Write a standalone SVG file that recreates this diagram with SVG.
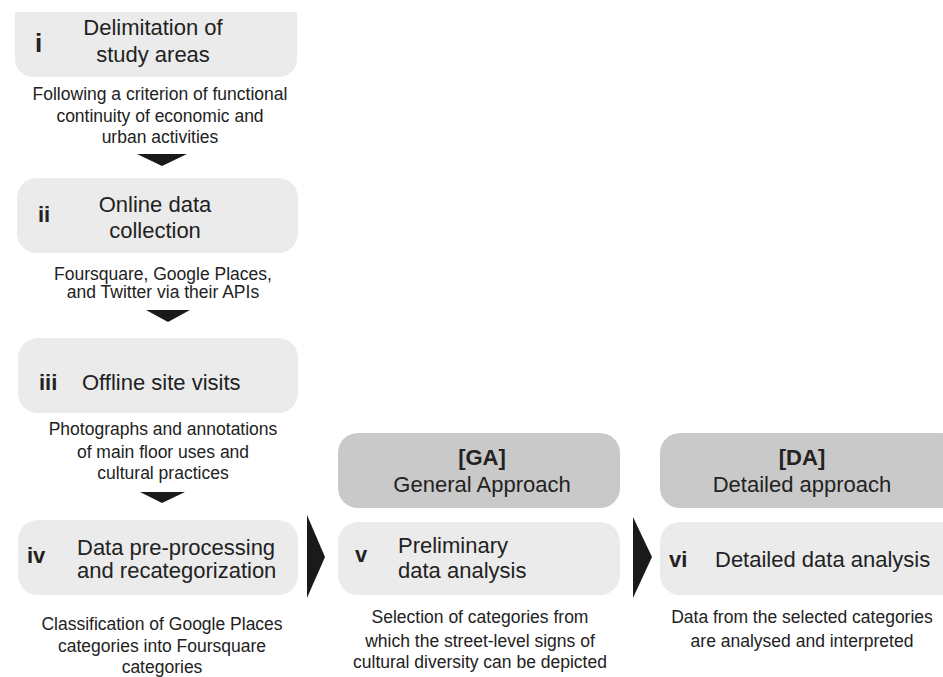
<svg xmlns="http://www.w3.org/2000/svg" width="943" height="677" viewBox="0 0 943 677">
<style>
text{font-family:"Liberation Sans",Arial,sans-serif;fill:#222}
.t{font-size:22px}
.n{font-size:22px;font-weight:bold}
.s{font-size:17.5px;text-anchor:middle}
.c{text-anchor:middle}
.lb{fill:#ebebeb}
.db{fill:#c9c9c9}
.ar{fill:#1a1a1a}
</style>
<rect width="943" height="677" fill="#fff"/>
<g id="node-i">
<path class="lb" d="M15,12 H297 V59 A18,18 0 0 1 279,77 H33 A18,18 0 0 1 15,59 Z"/>
<text class="n" x="35" y="52" style="font-size:26px">i</text>
<text class="t c" x="153" y="35">Delimitation of</text>
<text class="t c" x="153" y="62">study areas</text>
<text class="s" x="160" y="100">Following a criterion of functional</text>
<text class="s" x="160" y="122">continuity of economic and</text>
<text class="s" x="160" y="143">urban activities</text>
</g>
<g id="node-ii">
<rect class="lb" x="17" y="178" width="281" height="75" rx="20"/>
<text class="n" x="38" y="222">ii</text>
<text class="t c" x="155" y="212">Online data</text>
<text class="t c" x="155" y="238">collection</text>
<text class="s" x="163" y="280">Foursquare, Google Places,</text>
<text class="s" x="163" y="298">and Twitter via their APIs</text>
</g>
<g id="node-iii">
<rect class="lb" x="18" y="338" width="280" height="75" rx="20"/>
<text class="n" x="39" y="390">iii</text>
<text class="t" x="82" y="390">Offline site visits</text>
<text class="s" x="163" y="435">Photographs and annotations</text>
<text class="s" x="163" y="458">of main floor uses and</text>
<text class="s" x="163" y="479">cultural practices</text>
</g>
<g id="node-iv">
<rect class="lb" x="18" y="520" width="280" height="75" rx="20"/>
<text class="n" x="27" y="563">iv</text>
<text class="t" x="77" y="555">Data pre-processing</text>
<text class="t" x="77" y="578">and recategorization</text>
<text class="s" x="162" y="630">Classification of Google Places</text>
<text class="s" x="162" y="652">categories into Foursquare</text>
<text class="s" x="162" y="673">categories</text>
</g>
<g id="node-GA">
<rect class="db" x="338" y="433" width="282" height="75" rx="20"/>
<text class="n c" x="482" y="465">[GA]</text>
<text class="t c" x="482" y="492">General Approach</text>
</g>
<g id="node-v">
<rect class="lb" x="338" y="522" width="282" height="73" rx="20"/>
<text class="n" x="355" y="562">v</text>
<text class="t" x="398" y="553">Preliminary</text>
<text class="t" x="398" y="578">data analysis</text>
<text class="s" x="480" y="623">Selection of categories from</text>
<text class="s" x="480" y="647">which the street-level signs of</text>
<text class="s" x="480" y="668">cultural diversity can be depicted</text>
</g>
<g id="node-DA">
<rect class="db" x="660" y="433" width="300" height="75" rx="20"/>
<text class="n c" x="802" y="465">[DA]</text>
<text class="t c" x="802" y="492">Detailed approach</text>
</g>
<g id="node-vi">
<rect class="lb" x="660" y="522" width="300" height="73" rx="20"/>
<text class="n" x="669" y="567">vi</text>
<text class="t" x="715" y="567">Detailed data analysis</text>
<text class="s" x="802" y="623">Data from the selected categories</text>
<text class="s" x="802" y="647">are analysed and interpreted</text>
</g>
<g id="connectors">
<polygon class="ar" points="137,154 187,154 162,166"/>
<polygon class="ar" points="146,310 190,310 168,322"/>
<polygon class="ar" points="140,492 185,492 162,503"/>
<polygon class="ar" points="307,515 325,557 307,598"/>
<polygon class="ar" points="633,517 652,557 633,598"/>
</g>
</svg>
